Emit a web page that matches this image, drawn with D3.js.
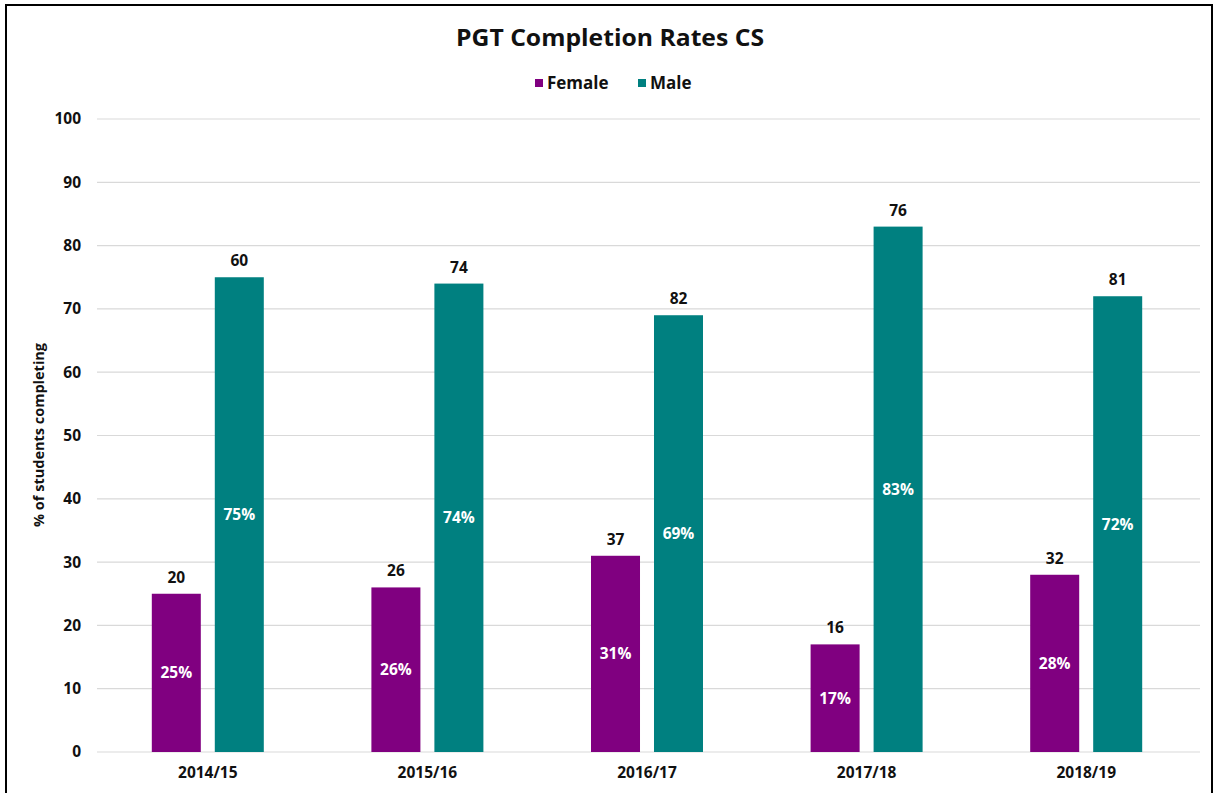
<!DOCTYPE html>
<html><head><meta charset="utf-8">
<script src="https://cdn.jsdelivr.net/npm/d3@7"></script>
<style>html,body{margin:0;padding:0;background:#fff;}svg{display:block;font-family:"Open Sans",sans-serif;}</style>
</head><body>
<script>
const categories = ["2014/15","2015/16","2016/17","2017/18","2018/19"];
const series = ["Female","Male"];
const femalePct = [25,26,31,17,28];
const malePct = [75,74,69,83,72];
const femaleCount = [20,26,37,16,32];
const maleCount = [60,74,82,76,81];
const yTicks = [0,10,20,30,40,50,60,70,80,90,100];
const colors = {Female:"#800080", Male:"#008080"};

const W=1218,H=793;
const svg=d3.select("body").append("svg").attr("width",W).attr("height",H);
svg.append("rect").attr("width",W).attr("height",H).attr("fill","#fff");
// frame
svg.append("path").attr("d",`M6,${H} L6,5 L1212,5 L1212,${H}`).attr("fill","none").attr("stroke","#000").attr("stroke-width",2);

const x=d3.scaleBand().domain(categories).range([98,1196]).padding(0);
const xs=d3.scaleBand().domain(series).range([-56,56]).paddingInner(0.222).paddingOuter(0);
const y=d3.scaleLinear().domain([0,100]).range([752,119]);

// grid
svg.append("g").selectAll("line").data(yTicks).join("line")
  .attr("x1",97).attr("x2",1200).attr("y1",d=>y(d)).attr("y2",d=>y(d))
  .attr("stroke","#d9d9d9").attr("stroke-width",1.2);

// y axis
const ya=svg.append("g").attr("transform","translate(81,0)")
  .call(d3.axisLeft(y).tickValues(yTicks).tickSize(0).tickPadding(0));
ya.select(".domain").remove();
ya.selectAll("text").attr("font-family","Open Sans").attr("font-size",15.5).attr("font-weight","bold").attr("fill","#111");

// x axis
const xa=svg.append("g").attr("transform","translate(0,752)")
  .call(d3.axisBottom(x).tickSize(0).tickPadding(15));
xa.select(".domain").remove();
xa.selectAll("text").attr("font-family","Open Sans").attr("font-size",15.5).attr("font-weight","bold").attr("fill","#111");

const data=categories.map((c,i)=>({c, vals:[
  {s:"Female",v:femalePct[i],n:femaleCount[i]},
  {s:"Male",v:malePct[i],n:maleCount[i]}]}));

const g=svg.append("g").selectAll("g").data(data).join("g")
  .attr("transform",d=>`translate(${x(d.c)+x.bandwidth()/2},0)`);
g.selectAll("rect").data(d=>d.vals).join("rect")
  .attr("x",d=>xs(d.s)).attr("width",xs.bandwidth())
  .attr("y",d=>y(d.v)).attr("height",d=>y(0)-y(d.v))
  .attr("fill",d=>colors[d.s]);
g.selectAll("text.cnt").data(d=>d.vals).join("text").attr("class","cnt")
  .attr("x",d=>xs(d.s)+xs.bandwidth()/2).attr("y",d=>y(d.v)-11)
  .attr("text-anchor","middle").attr("font-size",15.5).attr("font-weight","bold").attr("fill","#111")
  .text(d=>d.n);
g.selectAll("text.pct").data(d=>d.vals).join("text").attr("class","pct")
  .attr("x",d=>xs(d.s)+xs.bandwidth()/2).attr("y",d=>(y(d.v)+y(0))/2)
  .attr("dy","0.35em")
  .attr("text-anchor","middle").attr("font-size",15.5).attr("font-weight","bold").attr("fill","#fff")
  .text(d=>d.v+"%");

// title
svg.append("text").attr("x",610).attr("y",46).attr("text-anchor","middle")
  .attr("font-size",24).attr("font-weight","bold").attr("fill","#111")
  .attr("textLength",308).attr("lengthAdjust","spacingAndGlyphs")
  .text("PGT Completion Rates CS");

// legend
const leg=[{s:"Female",x:535},{s:"Male",x:638}];
const lg=svg.append("g").selectAll("g").data(leg).join("g").attr("transform",d=>`translate(${d.x},83)`);
lg.append("rect").attr("x",0).attr("y",-4).attr("width",8).attr("height",8).attr("fill",d=>colors[d.s]);
lg.append("text").attr("x",12).attr("dy","0.35em").attr("font-size",17).attr("font-weight","bold").attr("fill","#111").text(d=>d.s);

// y label
svg.append("text").attr("transform","translate(44,435) rotate(-90)").attr("text-anchor","middle")
  .attr("font-size",14.5).attr("font-weight","bold").attr("fill","#111")
  .text("% of students completing");
</script>
</body></html>
